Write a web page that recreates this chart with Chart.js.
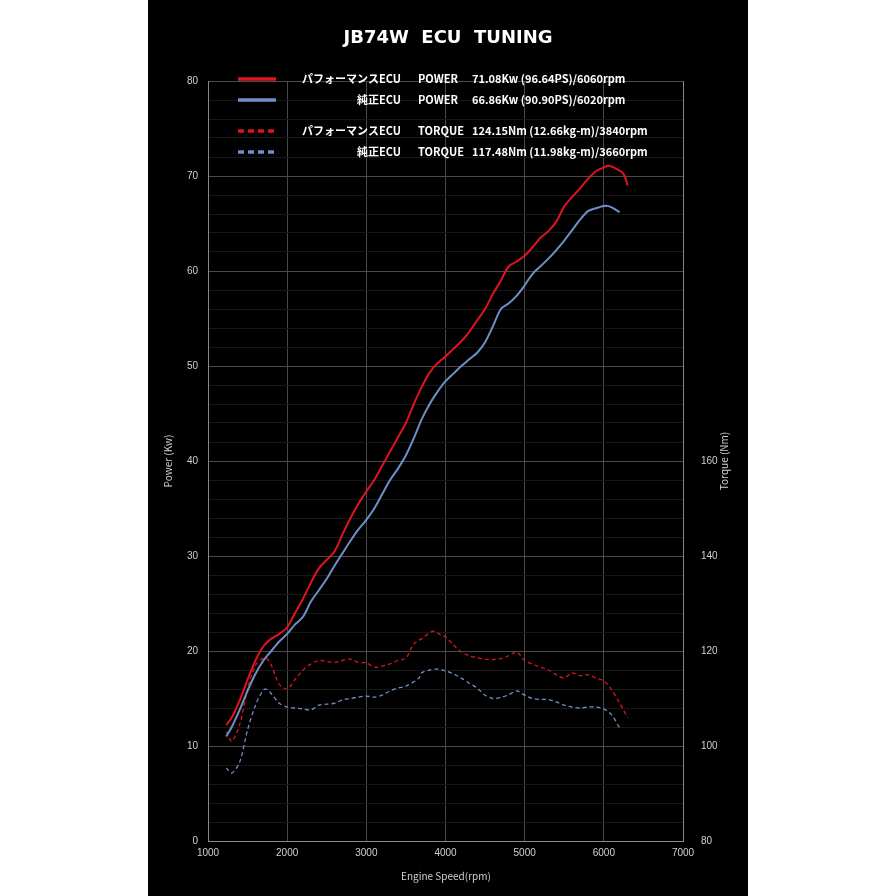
<!DOCTYPE html>
<html>
<head>
<meta charset="utf-8">
<script src="https://cdn.jsdelivr.net/npm/chart.js@4"></script>
<style>
  body { margin: 0; background: #fff; }
  #wrap { position: absolute; left: 148px; top: 0; width: 600px; height: 896px; background: #000; }
</style>
</head>
<body>
<div id="wrap"><canvas id="dyno" width="600" height="896"></canvas></div>
<script>
// data read from the dyno sheet
const perfPowerRpm = [1230,1300,1400,1500,1600,1700,1800,1900,2000,2100,2200,2300,2400,2500,2600,2700,2800,2900,3000,3100,3200,3300,3400,3500,3600,3700,3800,3900,4000,4100,4200,4300,4400,4500,4600,4700,4800,4900,5000,5100,5200,5300,5400,5500,5600,5700,5800,5900,6000,6060,6150,6250,6300];
const perfPowerKw = [12.2,13,14.8,17,19,20.5,21.3,21.8,22.5,24,25.5,27.2,28.7,29.6,30.5,32.3,34,35.5,36.8,38,39.5,41,42.5,44,46,47.8,49.3,50.3,51,51.8,52.6,53.6,54.8,56,57.6,59,60.5,61,61.6,62.5,63.5,64.2,65.2,66.8,67.8,68.7,69.7,70.5,70.9,71.08,70.8,70.2,69];
const stockPowerRpm = [1230,1300,1400,1500,1600,1700,1800,1900,2000,2100,2200,2300,2400,2500,2600,2700,2800,2900,3000,3100,3200,3300,3400,3500,3600,3700,3800,3900,4000,4100,4200,4300,4400,4500,4600,4700,4800,4900,5000,5100,5200,5300,5400,5500,5600,5700,5800,5900,6020,6100,6200];
const stockPowerKw = [11,12,13.8,15.8,17.6,19,20,21,21.8,22.8,23.6,25.2,26.4,27.6,29,30.3,31.6,32.8,33.8,35,36.5,38,39.2,40.6,42.4,44.4,46,47.3,48.4,49.2,50,50.7,51.4,52.5,54.2,56,56.6,57.4,58.5,59.7,60.5,61.3,62.2,63.2,64.3,65.4,66.3,66.6,66.86,66.7,66.2];
const perfTorqueRpm = [1230,1300,1400,1500,1600,1700,1750,1800,1900,2000,2100,2200,2300,2400,2500,2600,2700,2800,2900,3000,3100,3200,3300,3400,3500,3600,3700,3840,3950,4000,4100,4200,4300,4400,4500,4600,4700,4800,4900,5000,5100,5200,5300,5400,5500,5600,5700,5800,5900,6000,6100,6200,6300];
const perfTorqueNm = [103,101,104.5,112,117,118.5,118.3,117,113,112,114,116,117.3,118,117.8,117.6,118,118.3,117.6,117.5,116.6,116.8,117.3,118,118.5,121.5,122.6,124.15,123.3,123,121.3,119.8,119,118.6,118.3,118.2,118.4,119,119.8,118,117.2,116.6,116,115,114.3,115.4,114.8,115,114.3,113.7,111.8,109,106];
const stockTorqueRpm = [1230,1300,1400,1500,1600,1700,1750,1800,1900,2000,2100,2200,2300,2400,2500,2600,2700,2800,2900,3000,3100,3200,3300,3400,3500,3660,3700,3800,3900,4000,4100,4200,4300,4400,4500,4600,4700,4800,4900,5000,5100,5200,5300,5400,5500,5600,5700,5800,5900,6000,6100,6200];
const stockTorqueNm = [95.4,94.3,96.6,103.4,108.6,111.8,111.9,111,109,108.2,108,107.8,107.6,108.6,108.8,109,109.7,110,110.3,110.5,110.3,110.7,111.6,112.2,112.6,114.2,115.4,116,116.2,115.8,115.2,114.3,113.2,112.2,110.7,110,110.2,110.8,111.6,110.7,110,109.8,109.8,109.3,108.6,108.2,108,108.2,108.2,107.8,106.5,103.8];
const xTicks = [1000,2000,3000,4000,5000,6000,7000];

const RED = "#e0141e", BLUE = "#6f8fc8", TXT = "#d0d0d0";
const pts = (xs, ys) => xs.map((x, i) => ({ x: x, y: ys[i] }));

const decor = {
    id: "decor",
    afterDraw(chart) {
        const c = chart.ctx;
        c.save();
        c.fillStyle = "#fff";
        c.font = "bold 18px 'DejaVu Sans'";
        c.textAlign = "center";
        c.fillText("JB74W  ECU  TUNING", 300, 43);
        c.font = "10px 'Noto Sans CJK JP'";
        c.fillStyle = TXT;
        c.fillText("Engine Speed(rpm)", 298, 880);
        c.save(); c.translate(24, 461); c.rotate(-Math.PI / 2);
        c.fillText("Power (Kw)", 0, 0); c.restore();
        c.save(); c.translate(580, 461); c.rotate(-Math.PI / 2);
        c.fillText("Torque (Nm)", 0, 0); c.restore();
        // legend
        const rows = [
            [RED, [], "パフォーマンスECU", "POWER", "71.08Kw (96.64PS)/6060rpm", 79],
            [BLUE, [], "純正ECU", "POWER", "66.86Kw (90.90PS)/6020rpm", 100],
            [RED, [6, 4], "パフォーマンスECU", "TORQUE", "124.15Nm (12.66kg-m)/3840rpm", 131],
            [BLUE, [6, 4], "純正ECU", "TORQUE", "117.48Nm (11.98kg-m)/3660rpm", 152]
        ];
        c.font = "bold 11px 'Noto Sans CJK JP'";
        c.textBaseline = "middle";
        rows.forEach(r => {
            c.strokeStyle = r[0]; c.lineWidth = 3.5; c.setLineDash(r[1]);
            c.beginPath(); c.moveTo(90, r[5]); c.lineTo(128, r[5]); c.stroke();
            c.setLineDash([]);
            c.fillStyle = "#fff";
            c.textAlign = "right"; c.fillText(r[2], 253, r[5]);
            c.textAlign = "left"; c.fillText(r[3], 270, r[5]);
            c.fillText(r[4], 324, r[5]);
        });
        c.restore();
    }
};

new Chart(document.getElementById("dyno"), {
    type: "line",
    data: {
        datasets: [
            { data: pts(perfPowerRpm, perfPowerKw), borderColor: RED, borderWidth: 2, yAxisID: "y" },
            { data: pts(stockPowerRpm, stockPowerKw), borderColor: BLUE, borderWidth: 2, yAxisID: "y" },
            { data: pts(perfTorqueRpm, perfTorqueNm), borderColor: RED, borderWidth: 1.3, borderDash: [4, 3], yAxisID: "y2" },
            { data: pts(stockTorqueRpm, stockTorqueNm), borderColor: BLUE, borderWidth: 1.3, borderDash: [4, 3], yAxisID: "y2" }
        ]
    },
    options: {
        responsive: false,
        animation: false,
        layout: { padding: { top: 81, bottom: 0, left: 0, right: 0 } },
        elements: { point: { radius: 0 }, line: { tension: 0.3 } },
        plugins: { legend: { display: false }, tooltip: { enabled: false } },
        scales: {
            x: {
                type: "linear", min: 1000, max: 7000,
                afterBuildTicks: s => { s.ticks = xTicks.map(v => ({ value: v })); },
                afterFit: s => { s.height = 55; },
                grid: { color: "#4a4a4a", drawTicks: false },
                border: { color: "#888" },
                ticks: { color: TXT, font: { size: 10 }, padding: 6, callback: v => String(v) }
            },
            y: {
                min: 0, max: 80,
                afterFit: s => { s.width = 60; },
                ticks: { stepSize: 2, color: TXT, font: { size: 10 }, padding: 10,
                    callback: v => (v % 10 === 0 ? v : "") },
                grid: { drawTicks: false, color: c => (c.tick.value % 10 === 0 ? "#4a4a4a" : "#181818") },
                border: { color: "#888" }
            },
            y2: {
                position: "right", min: 80, max: 240,
                afterFit: s => { s.width = 65; },
                ticks: { stepSize: 20, color: TXT, font: { size: 10 }, padding: 10,
                    callback: v => (v <= 160 ? v : "") },
                grid: { display: false },
                border: { color: "#888" }
            }
        }
    },
    plugins: [decor]
});
</script>
</body>
</html>
